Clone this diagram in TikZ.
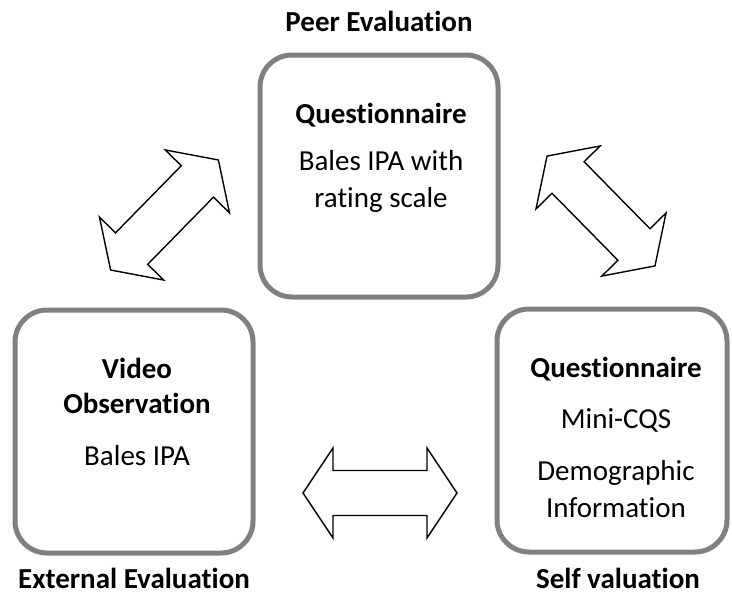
\documentclass[tikz,border=0pt]{standalone}
\usepackage{fontspec}
\setmainfont{Carlito}[RawFeature={-liga;-clig;-dlig}]
\begin{document}
\begin{tikzpicture}[x=1pt,y=-1pt,
  box/.style={draw=boxgray, line width=5pt, rounded corners=32pt, fill=white, inner sep=0pt},
  lbl/.style={anchor=base, inner sep=0pt, font=\fontsize{29}{35}\selectfont},
  bold/.style={lbl, font=\fontsize{29}{35}\selectfont\bfseries},
  blockarrow/.style={draw=black, line width=1.4pt, fill=white, line join=miter}]
\definecolor{boxgray}{HTML}{808080}
\useasboundingbox (0,0) rectangle (732,595);
\fill[white] (0,0) rectangle (732,595);
% boxes
\node[box, minimum width=238pt, minimum height=242pt] (peerbox) at (379,176) {};
\node[box, minimum width=238pt, minimum height=243pt] (extbox) at (134,431.5) {};
\node[box, minimum width=230pt, minimum height=243pt] (selfbox) at (612,430.5) {};
% captions
\node[bold] (peer) at (379,31) {Peer Evaluation};
\node[bold] (ext) at (134,588) {External Evaluation};
\node[bold] (self) at (618,588) {Self valuation};
% top box text
\node[bold] (q1) at (381,123) {Questionnaire};
\node[lbl] (b1) at (381,170) {Bales IPA with};
\node[lbl] (b2) at (381,207) {rating scale};
% left box text
\node[bold] (v1) at (137,378) {Video};
\node[bold] (v2) at (137,413) {Observation};
\node[lbl] (v3) at (137,465) {Bales IPA};
% right box text
\node[bold] (q2) at (616,377) {Questionnaire};
\node[lbl] (m1) at (616,428) {Mini-CQS};
\node[lbl] (d1) at (616,480) {Demographic};
\node[lbl] (d2) at (616,517) {Information};
% block arrows
\def\dblarrow{(77,0) -- (47,45) -- (47,22.5) -- (-47,22.5) -- (-47,45) -- (-77,0) -- (-47,-45) -- (-47,-22.5) -- (47,-22.5) -- (47,-45) -- cycle}
\draw[blockarrow, shift={(164.5,215)}, rotate=45.6] \dblarrow;
\draw[blockarrow, shift={(601,211)}, rotate=-45.5] \dblarrow;
\draw[blockarrow, shift={(380,493)}] \dblarrow;
\end{tikzpicture}
\end{document}
